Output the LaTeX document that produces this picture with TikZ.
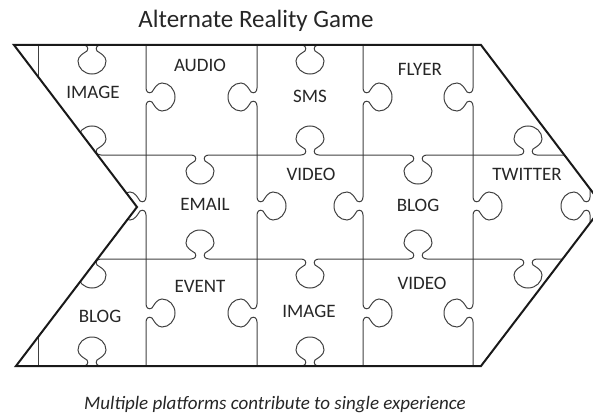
\documentclass[tikz,border=0pt]{standalone}
\usepackage{fontspec}
\setmainfont{Carlito}
\newcommand\pzedge[4]{%
  \draw[pz,shift={(#2)},#1] (-#3,0) -- (-9,0) .. controls (-5,0) and (-3,3) .. (-5,6)
    .. controls (-8,8) and (-14,11) .. (-14,16) .. controls (-14,23) and (-8,29) .. (0,29)
    .. controls (8,29) and (14,23) .. (14,16) .. controls (14,11) and (8,8) .. (5,6)
    .. controls (3,3) and (5,0) .. (9,0) -- (#4,0);}
\begin{document}
\begin{tikzpicture}[x=1pt,y=-1pt,
  pz/.style={draw=black!75, line width=1pt},
  border/.style={draw=black!90, line width=2pt, line join=miter},
  lbl/.style={font=\fontsize{19}{21}\selectfont, text=black!85, inner sep=0pt},
  kd/.style={}, ku/.style={yscale=-1}, kl/.style={rotate=-90}, kr/.style={rotate=-90,yscale=-1}]
\useasboundingbox (0,0) rectangle (593,417);
\begin{scope}
\clip (14,45) -- (481,45) -- (603,206) -- (481,366) -- (16,366) -- (137,207) -- cycle;
% horizontal edges y=155
\pzedge{ku}{92,155}{54}{54}
\pzedge{kd}{200,155}{54}{57}
\pzedge{ku}{310,155}{53}{53}
\pzedge{kd}{418,155}{55}{55}
\pzedge{ku}{528,155}{55}{72}
% horizontal edges y=259
\pzedge{kd}{92,259}{54}{54}
\pzedge{ku}{200,259}{54}{57}
\pzedge{kd}{310,259}{53}{53}
\pzedge{ku}{418,259}{55}{55}
\pzedge{kd}{528,259}{55}{72}
% top and bottom border knobs
\pzedge{kd}{92,45}{20}{20}
\pzedge{kd}{310,45}{20}{20}
\pzedge{ku}{92,366}{20}{20}
\pzedge{ku}{310,366}{20}{20}
% vertical edges
\draw[pz] (38,45) -- (38,155);
\draw[pz] (38,259) -- (38,366);
\pzedge{kr}{146,97}{52}{58}
\pzedge{kl}{146,206}{51}{53}
\pzedge{kr}{146,313}{54}{53}
\pzedge{kl}{257,97}{52}{58}
\pzedge{kr}{257,206}{51}{53}
\pzedge{kl}{257,313}{54}{53}
\pzedge{kr}{363,97}{52}{58}
\pzedge{kl}{363,206}{51}{53}
\pzedge{kr}{363,313}{54}{53}
\pzedge{kl}{473,97}{52}{58}
\pzedge{kr}{473,206}{51}{53}
\pzedge{kl}{473,313}{54}{53}
\draw[pz] (590,45) -- (590,155);
\pzedge{kl}{590,206}{51}{53}
\draw[pz] (590,259) -- (590,366);
\end{scope}
\draw[border] (14,45) -- (481,45) -- (603,206) -- (481,366) -- (16,366) -- (137,207) -- cycle;
% labels
\node[lbl] (image1) at (93,92) {IMAGE};
\node[lbl] (audio) at (200,65) {AUDIO};
\node[lbl] (sms) at (310,96) {SMS};
\node[lbl] (flyer) at (420,69) {FLYER};
\node[lbl] (email) at (205,204) {EMAIL};
\node[lbl] (video1) at (311,174) {VIDEO};
\node[lbl] (blog1) at (418,205) {BLOG};
\node[lbl] (twitter) at (527,174) {TWITTER};
\node[lbl] (blog2) at (100,316) {BLOG};
\node[lbl] (event) at (200,286) {EVENT};
\node[lbl] (image2) at (309,311) {IMAGE};
\node[lbl] (video2) at (422,283) {VIDEO};
\node[font=\fontsize{25}{29}\selectfont, text=black!85, inner sep=0pt] (title) at (256,21) {Alternate Reality Game};
\node[font=\itshape\fontsize{19}{21}\selectfont, text=black!85, inner sep=0pt] (caption) at (275,405) {Multiple platforms contribute to single experience};
\end{tikzpicture}
\end{document}
